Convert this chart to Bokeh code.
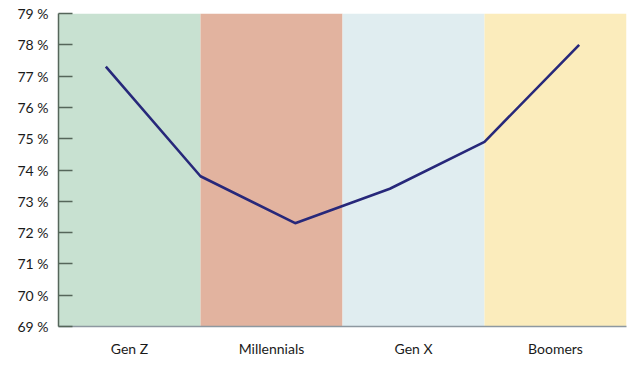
from bokeh.plotting import figure
from bokeh.models import ColumnDataSource, Range1d, FixedTicker
from bokeh.embed import file_html
from bokeh.resources import INLINE

# --- data ---
categories = ["Gen Z", "Millennials", "Gen X", "Boomers"]
band_colors = ["#c8e1d1", "#e2b39f", "#e0edf0", "#fbecbc"]
values = [77.3, 73.8, 72.3, 73.4, 74.9, 78.0]
y_ticks = [69, 70, 71, 72, 73, 74, 75, 76, 77, 78, 79]

n_pts = len(values)
n_cat = len(categories)
span = float(n_pts)
band_w = span / n_cat

band_src = ColumnDataSource(dict(
    x=[(i + 0.5) * band_w for i in range(n_cat)],
    color=band_colors,
))
line_src = ColumnDataSource(dict(
    x=[i + 0.5 for i in range(n_pts)],
    y=values,
))

FONT = "Lato"

p = figure(width=640, height=365, output_backend="svg", toolbar_location=None,
           x_range=Range1d(0, span), y_range=Range1d(y_ticks[0], y_ticks[-1]),
           min_border_left=58, min_border_right=14, min_border_top=13, min_border_bottom=39)

p.vbar(x="x", width=band_w, bottom=y_ticks[0], top=y_ticks[-1], fill_color="color",
       line_color=None, source=band_src)
p.line("x", "y", source=line_src, line_color="#27287a", line_width=2.6)

p.xgrid.visible = False
p.ygrid.visible = False
p.outline_line_color = None
p.background_fill_color = "white"

# y axis
ya = p.yaxis[0]
ya.ticker = FixedTicker(ticks=y_ticks)
ya.major_label_overrides = {t: f"{t} %" for t in y_ticks}
ya.major_tick_in = 14
ya.major_tick_out = 0
ya.minor_tick_line_color = None
ya.major_tick_line_color = "#55665a"
ya.major_tick_line_width = 1.5
ya.axis_line_color = "#55665a"
ya.axis_line_width = 1.5
ya.major_label_text_font = FONT
ya.major_label_text_font_size = "14px"
ya.major_label_text_color = "#1a1a1a"
ya.major_label_text_baseline = "top"
ya.major_label_standoff = 10

# x axis
xa = p.xaxis[0]
centers = [(i + 0.5) * band_w for i in range(n_cat)]
xa.ticker = FixedTicker(ticks=centers)
xa.major_label_overrides = {c: lab for c, lab in zip(centers, categories)}
xa.major_tick_line_color = None
xa.minor_tick_line_color = None
xa.axis_line_color = "#8d98a0"
xa.axis_line_width = 1.5
xa.major_label_text_font = FONT
xa.major_label_text_font_size = "14px"
xa.major_label_text_color = "#1a1a1a"
xa.major_label_standoff = 7

open("out.html", "w").write(file_html(p, INLINE))
